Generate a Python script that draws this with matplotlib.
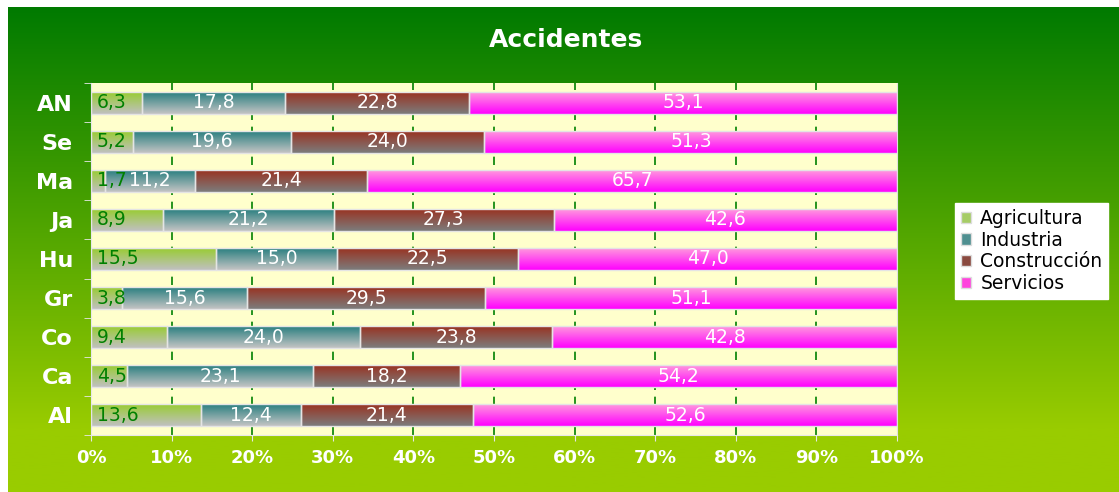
import numpy as np
import matplotlib.pyplot as plt
from matplotlib.colors import to_rgb

plt.rcParams["font.family"] = ["DejaVu Sans"]

# datos (de abajo hacia arriba)
provincias = ["Al", "Ca", "Co", "Gr", "Hu", "Ja", "Ma", "Se", "AN"]
agricultura = [13.6, 4.5, 9.4, 3.8, 15.5, 8.9, 1.7, 5.2, 6.3]
industria = [12.4, 23.1, 24.0, 15.6, 15.0, 21.2, 11.2, 19.6, 17.8]
construccion = [21.4, 18.2, 23.8, 29.5, 22.5, 27.3, 21.4, 24.0, 22.8]
servicios = [52.6, 54.2, 42.8, 51.1, 47.0, 42.6, 65.7, 51.3, 53.1]

series = [
    ("Agricultura", agricultura, "#99cc33", "#c0c0c0", "#008000", "#a6cc66"),
    ("Industria", industria, "#2a7f80", "#c4c4c4", "white", "#4f8f90"),
    ("Construcción", construccion, "#993322", "#7c7c7c", "white", "#8a4a40"),
    ("Servicios", servicios, "#ff99dd", "#ff00ff", "white", "#ff44dd"),
]

W, H = 1119, 492
fig = plt.figure(figsize=(W / 100, H / 100), dpi=100)
fig.patch.set_facecolor("white")

# fondo degradado verde
bg = fig.add_axes([8 / W, 0, 1 - 8 / W, 1 - 7 / H], zorder=-10)
top_c = np.array(to_rgb("#007a00"))
bot_c = np.array(to_rgb("#99cc00"))
t = np.clip(np.linspace(0, 1.15, 300), 0, 1)[:, None, None]
grad = top_c * (1 - t) + bot_c * t
bg.imshow(grad, aspect="auto", extent=[0, 1, 0, 1], origin="upper")
bg.set_axis_off()

ax = fig.add_axes([91 / W, 1 - 435 / H, (897 - 91) / W, (435 - 83) / H])
ax.set_facecolor("#ffffcc")

y = np.arange(len(provincias))
h = 0.56
left = np.zeros(len(provincias))
handles = []
for name, vals, c_top, c_bot, tcol, lcol in series:
    vals = np.array(vals)
    bars = ax.barh(y, vals, height=h, left=left, color=lcol,
                   edgecolor="#e4e4e4", linewidth=1, label=name, zorder=2)
    handles.append(bars)
    ct, cb = np.array(to_rgb(c_top)), np.array(to_rgb(c_bot))
    g = np.linspace(0, 1, 50)[:, None, None]
    img = ct * (1 - g) + cb * g
    for b in bars:
        x0, y0 = b.get_x(), b.get_y()
        im = ax.imshow(img, aspect="auto", origin="upper",
                       extent=[x0, x0 + b.get_width(), y0, y0 + b.get_height()],
                       zorder=2.5)
        im.set_clip_path(b)
        b.set_facecolor("none")
        b.set_zorder(3)
    for i, v in enumerate(vals):
        txt = f"{v:.1f}".replace(".", ",")
        if name == "Agricultura":
            ax.text(left[i] + 0.7, y[i], txt, ha="left", va="center",
                    color=tcol, fontsize=13.5, zorder=4)
        else:
            ax.text(left[i] + v / 2, y[i], txt, ha="center", va="center",
                    color=tcol, fontsize=13.5, zorder=4)
    left += vals

ax.set_xlim(0, 100)
ax.set_ylim(-0.5, len(provincias) - 0.5)

for xv in range(10, 100, 10):
    ax.axvline(xv, color="#008000", lw=1.2, ls=(0, (5, 4)), zorder=1)

ax.set_xticks(range(0, 101, 10))
ax.set_xticklabels([f"{v}%" for v in range(0, 101, 10)],
                   color="white", fontweight="bold", fontsize=13)
ax.tick_params(axis="x", direction="out", length=4, color="#e8e8e8", pad=6)

ax.set_yticks(y)
ax.set_yticklabels(provincias, color="white", fontweight="bold", fontsize=16)
ax.tick_params(axis="y", which="major", length=0, pad=13)
ax.set_yticks(np.arange(-0.5, len(provincias), 1), minor=True)
ax.tick_params(axis="y", which="minor", length=5, color="#e8e8e8", direction="out")

for s in ["left", "bottom"]:
    ax.spines[s].set_color("#e8e8e8")
ax.spines["right"].set_color("#e0e0e0")
ax.spines["top"].set_visible(False)

fig.text(566 / W, 1 - 40 / H, "Accidentes", color="white", fontweight="bold",
         fontsize=18, ha="center", va="center")

leg = fig.legend(handles=handles, loc="center left",
                 bbox_to_anchor=(955 / W, 1 - 251 / H), fontsize=13.5,
                 frameon=True, fancybox=False, framealpha=1, handlelength=0.55,
                 handleheight=0.55, handletextpad=0.5, labelspacing=0.15,
                 borderpad=0.3, borderaxespad=0)
leg.get_frame().set_facecolor("white")
leg.get_frame().set_edgecolor("white")
for p, (_, _, ct, cb, _, lc) in zip(leg.get_patches(), series):
    p.set_facecolor(lc)
    p.set_edgecolor("#dddddd")

fig.savefig("out.png", dpi=100)
